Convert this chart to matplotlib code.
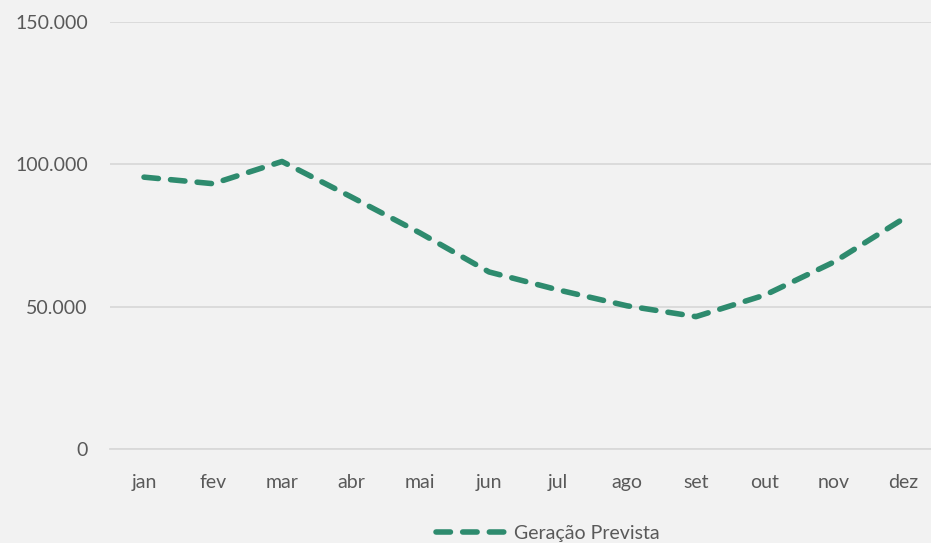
import matplotlib.pyplot as plt
from matplotlib.ticker import FuncFormatter

meses = ["jan", "fev", "mar", "abr", "mai", "jun", "jul", "ago", "set", "out", "nov", "dez"]
geracao_prevista = [95500, 93200, 101000, 88600, 75900, 62200, 55900, 50300, 46500, 54100, 65700, 80800]

COR_LINHA = "#2E8B6E"
COR_TEXTO = "#595959"
COR_GRADE = "#D9D9D9"
FUNDO = "#F2F2F2"

plt.rcParams["font.family"] = ["Lato", "DejaVu Sans"]

fig = plt.figure(figsize=(9.31, 5.43), dpi=100, facecolor=FUNDO)
ax = fig.add_axes([110 / 931, 1 - 449 / 543, 1 - 110 / 931, (449 - 22) / 543])
ax.set_facecolor(FUNDO)

x = list(range(len(meses)))
ax.plot(x, geracao_prevista, color=COR_LINHA, linewidth=4, linestyle=(0, (2.6, 2.2)),
        dash_capstyle="round", solid_capstyle="round", label="Geração Prevista")

ax.set_ylim(0, 150000)
ax.set_yticks([0, 50000, 100000, 150000])
ax.yaxis.set_major_formatter(FuncFormatter(lambda v, p: f"{int(v):,}".replace(",", ".")))
ax.set_xlim(-34 / 69, 11 + 28 / 69)
ax.set_xticks(x)
ax.set_xticklabels(meses)

ax.grid(axis="y", color=COR_GRADE, linewidth=1.3)
ax.set_axisbelow(True)
for lado in ["top", "right", "left"]:
    ax.spines[lado].set_visible(False)
ax.spines["bottom"].set_color(COR_GRADE)
ax.spines["bottom"].set_linewidth(1.3)
ax.tick_params(length=0, colors=COR_TEXTO, labelsize=14)
ax.tick_params(axis="y", pad=16)
ax.tick_params(axis="x", pad=18)

leg = fig.legend(loc="center", bbox_to_anchor=(548 / 931, 1 - 533 / 543), frameon=False,
                 fontsize=14, handlelength=3.6, handletextpad=0.4)
for t in leg.get_texts():
    t.set_color(COR_TEXTO)

fig.savefig("out.png", dpi=100, facecolor=FUNDO)
